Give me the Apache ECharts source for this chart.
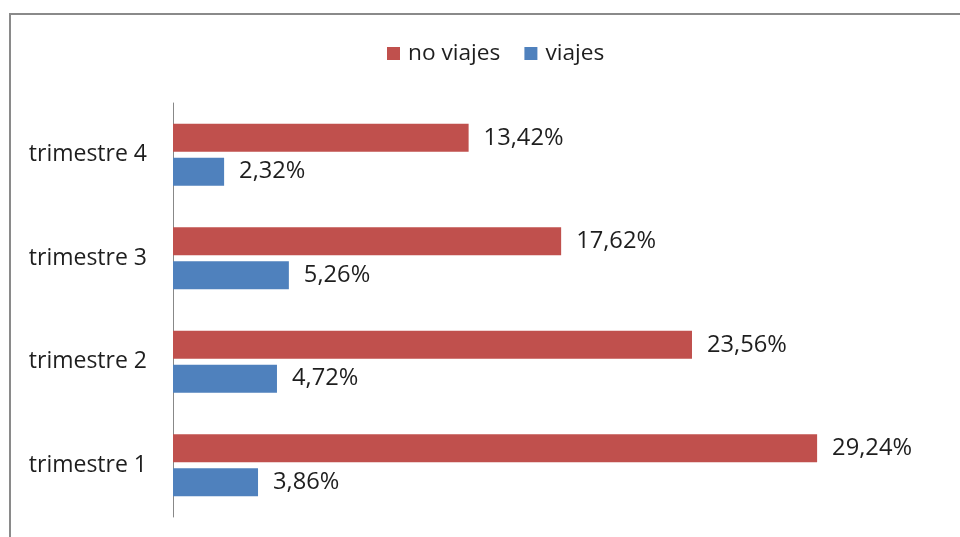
<!DOCTYPE html>
<html>
<head>
<meta charset="utf-8">
<script src="https://cdn.jsdelivr.net/npm/echarts@6/dist/echarts.min.js"></script>
<style>
    html, body { margin: 0; padding: 0; background: #fff; }
    #chart { width: 960px; height: 537px; }
</style>
</head>
<body>
<div id="chart"></div>
<script>
const categories = ["trimestre 1", "trimestre 2", "trimestre 3", "trimestre 4"];
const noViajes = [29.24, 23.56, 17.62, 13.42];
const viajes = [3.86, 4.72, 5.26, 2.32];

const fontFamily = "Open Sans";
const textColor = "#1e1e1e";

// etiqueta con coma decimal
const fmt = (p) => p.value.toFixed(2).replace(".", ",") + "%";

const chart = echarts.init(document.getElementById("chart"));
chart.setOption({
    backgroundColor: "#fff",
    animation: false,
    graphic: [
        {
            type: "rect",
            shape: {x: 10, y: 14, width: 1000, height: 600},
            style: {fill: "none", stroke: "#8a8a8a", lineWidth: 2},
            silent: true
        }
    ],
    legend: {
        data: ["no viajes", "viajes"],
        left: 382,
        top: 37,
        itemWidth: 13,
        itemHeight: 13,
        itemGap: 24,
        icon: "rect",
        textStyle: {
            fontFamily: fontFamily,
            fontSize: 22.7,
            color: textColor,
            padding: [0, 0, 0, 3]
        }
    },
    grid: {
        left: 173,
        right: 16,
        top: 103,
        bottom: 20
    },
    xAxis: {
        type: "value",
        min: 0,
        max: 35,
        show: false
    },
    yAxis: {
        type: "category",
        data: categories,
        axisLine: {show: true, lineStyle: {color: "#888", width: 1}},
        axisTick: {show: false},
        axisLabel: {
            margin: 26,
            fontFamily: fontFamily,
            fontSize: 23,
            color: textColor
        },
        splitLine: {show: false}
    },
    series: [
        {
            name: "no viajes",
            type: "bar",
            data: noViajes,
            barWidth: 28,
            barGap: "21%",
            itemStyle: {color: "#C0504D"},
            label: {
                show: true,
                position: "right",
                distance: 15,
                formatter: fmt,
                fontFamily: fontFamily,
                fontSize: 23.7,
                color: textColor
            }
        },
        {
            name: "viajes",
            type: "bar",
            data: viajes,
            barWidth: 28,
            barGap: "21%",
            itemStyle: {color: "#4F81BD"},
            label: {
                show: true,
                position: "right",
                distance: 15,
                formatter: fmt,
                fontFamily: fontFamily,
                fontSize: 23.7,
                color: textColor
            }
        }
    ]
});
</script>
</body>
</html>
